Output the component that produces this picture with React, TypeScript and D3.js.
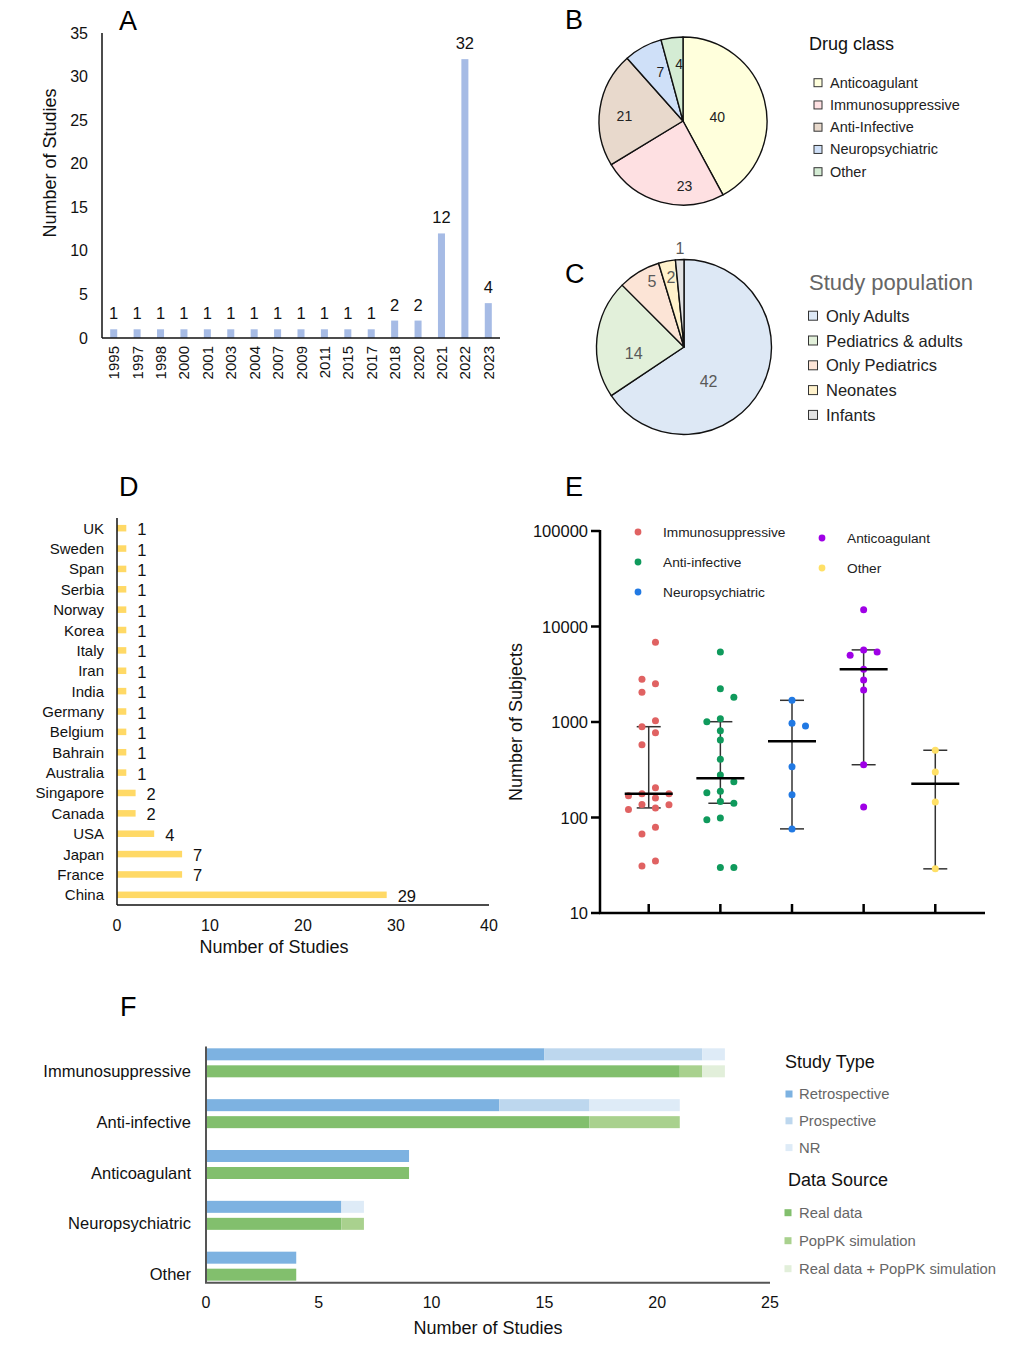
import React from "react";
import * as d3 from "d3";

const FONT = "'Liberation Sans', Arial, Helvetica, sans-serif";

// ---- A: studies per publication year
const years = ["1995", "1997", "1998", "2000", "2001", "2003", "2004", "2007", "2009", "2011", "2015", "2017", "2018", "2020", "2021", "2022", "2023"];
const studiesPerYear = [1, 1, 1, 1, 1, 1, 1, 1, 1, 1, 1, 1, 2, 2, 12, 32, 4];
const yearTicks = [0, 5, 10, 15, 20, 25, 30, 35];

// ---- B: drug class
const drugClasses = ["Anticoagulant", "Immunosuppressive", "Anti-Infective", "Neuropsychiatric", "Other"];
const drugClassCounts = [40, 23, 21, 7, 4];
const drugClassColors = ["#ffffdc", "#fee0e2", "#e8d9cc", "#cfe0f8", "#d4ecd4"];
// label placement inside slice: fraction of the slice angle, fraction of radius
const drugLabelT = [0.55, 0.31, 0.45, 0.63, 0.74];
const drugLabelR = [0.41, 0.77, 0.7, 0.64, 0.68];

// ---- C: study population
const populations = ["Only Adults", "Pediatrics & adults", "Only Pediatrics", "Neonates", "Infants"];
const populationCounts = [42, 14, 5, 2, 1];
const populationColors = ["#dde8f5", "#e2f0da", "#fce4d6", "#fff2cc", "#e3e3e3"];
const popLabelT = [0.61, 0.34, 0.67, 0.55, 0.59];
const popLabelR = [0.48, 0.58, 0.83, 0.81, 1.13];

// ---- D: countries
const countries = ["UK", "Sweden", "Span", "Serbia", "Norway", "Korea", "Italy", "Iran", "India", "Germany", "Belgium", "Bahrain", "Australia", "Singapore", "Canada", "USA", "Japan", "France", "China"];
const countryCounts = [1, 1, 1, 1, 1, 1, 1, 1, 1, 1, 1, 1, 1, 2, 2, 4, 7, 7, 29];
const countryTicks = [0, 10, 20, 30, 40];

// ---- E: number of subjects per study
const subjectGroups = ["Immunosuppressive", "Anti-infective", "Neuropsychiatric", "Anticoagulant", "Other"];
const subjectColors = ["#e06262", "#0f9a5c", "#2179e3", "#9f00e6", "#ffe066"];
const immunoSubjects = [6840, 2800, 2520, 2050, 1030, 893, 773, 578, 205, 177, 177, 169, 160, 137, 136, 126, 121, 79, 67, 35, 31];
const antiInfectiveSubjects = [5410, 2230, 1815, 1083, 1007, 811, 648, 407, 279, 237, 188, 182, 147, 141, 99, 95, 30, 30];
const neuroSubjects = [1687, 969, 908, 340, 173, 76];
const anticoagSubjects = [15000, 5680, 5410, 4990, 3560, 2755, 2165, 357, 129];
const otherSubjects = [506, 299, 145, 29];
const subjectMedian = [177, 257, 630, 3560, 226];
const subjectLower = [126, 141, 76, 357, 29];
const subjectUpper = [893, 1007, 1687, 5690, 506];
const subjectTicks = [10, 100, 1000, 10000, 100000];

// ---- F: study type / data source by drug class
const fClasses = ["Immunosuppressive", "Anti-infective", "Anticoagulant", "Neuropsychiatric", "Other"];
const studyTypes = ["Retrospective", "Prospective", "NR"];
const studyTypeColors = ["#7db2e1", "#bdd7ee", "#deebf7"];
const retrospective = [15, 13, 9, 6, 4];
const prospective = [7, 4, 0, 0, 0];
const notReported = [1, 4, 0, 1, 0];
const dataSources = ["Real data", "PopPK simulation", "Real data + PopPK simulation"];
const dataSourceColors = ["#82bf6d", "#a9d18e", "#e2efda"];
const realData = [21, 17, 9, 6, 4];
const popPK = [1, 4, 0, 1, 0];
const realPlusPopPK = [1, 0, 0, 0, 0];
const fTicks = [0, 5, 10, 15, 20, 25];

// simple beeswarm: places each point in the nearest free lane
function swarmLanes(ys: number[], step: number, gap: number, odd: boolean) {
  const lanes = odd ? [0, -1, 1, -2, 2, -3, 3] : [-0.5, 0.5, -1.5, 1.5, -2.5, 2.5];
  const order = ys.map((_, i) => i).sort((a, b) => ys[a] - ys[b]);
  const placed: { y: number; lane: number }[] = [];
  const out: number[] = new Array(ys.length).fill(0);
  let preferPos = true;
  order.forEach((i) => {
    const y = ys[i];
    const cand = lanes
      .slice()
      .sort((a, b) => Math.abs(a) - Math.abs(b) || (preferPos ? b - a : a - b));
    const lane =
      cand.find((l) => placed.every((p) => p.lane !== l || Math.abs(p.y - y) >= gap)) ?? 0;
    placed.push({ y, lane });
    if (lane !== 0) preferPos = lane < 0;
    out[i] = lane * step;
  });
  return out;
}

function swarm(ys: number[]) {
  const odd = swarmLanes(ys, 13.5, 9, true);
  if (d3.max(odd, (d) => Math.abs(d))! < 27) return odd;
  return swarmLanes(ys, 13.5, 9, false);
}

const PieChart: React.FC<{
  cx: number;
  cy: number;
  r: number;
  values: number[];
  colors: string[];
  labelT: number[];
  labelR: number[];
  labelColor: string;
  fontSize: number;
}> = ({ cx, cy, r, values, colors, labelT, labelR, labelColor, fontSize }) => {
  const arcs = d3.pie<number>().sort(null).value((d) => d)(values);
  const arc = d3.arc<d3.PieArcDatum<number>>().innerRadius(0).outerRadius(r);
  return (
    <g transform={`translate(${cx},${cy})`}>
      {arcs.map((a, i) => (
        <path key={i} d={arc(a) || ""} fill={colors[i]} stroke="#111" strokeWidth={1.4} strokeLinejoin="round" />
      ))}
      {arcs.map((a, i) => {
        const ang = a.startAngle + labelT[i] * (a.endAngle - a.startAngle);
        const rr = labelR[i] * r;
        return (
          <text
            key={"l" + i}
            x={Math.sin(ang) * rr}
            y={-Math.cos(ang) * rr}
            textAnchor="middle"
            dominantBaseline="central"
            fontSize={fontSize}
            fill={labelColor}
          >
            {a.data}
          </text>
        );
      })}
    </g>
  );
};

const PanelA = () => {
  const x = d3.scaleBand<string>().domain(years).range([102, 500]).paddingInner(0.7).paddingOuter(0.35);
  const y = d3.scaleLinear().domain([0, 35]).range([338, 33]);
  return (
    <g>
      {years.map((yr, i) => (
        <rect key={yr} x={x(yr)} y={y(studiesPerYear[i])} width={x.bandwidth()} height={y(0) - y(studiesPerYear[i])} fill="#a6bbe5" />
      ))}
      {years.map((yr, i) => (
        <text key={"v" + yr} x={x(yr)! + x.bandwidth() / 2} y={y(studiesPerYear[i]) - 10} textAnchor="middle" fontSize={16.5} fill="#111">
          {studiesPerYear[i]}
        </text>
      ))}
      {years.map((yr) => (
        <text
          key={"t" + yr}
          transform={`translate(${x(yr)! + x.bandwidth() / 2},346) rotate(-90)`}
          textAnchor="end"
          dominantBaseline="central"
          fontSize={15}
          fill="#111"
        >
          {yr}
        </text>
      ))}
      {yearTicks.map((t) => (
        <text key={"y" + t} x={88} y={y(t)} textAnchor="end" dominantBaseline="central" fontSize={16} fill="#111">
          {t}
        </text>
      ))}
      <line x1={102} x2={102} y1={y(35)} y2={y(0)} stroke="#111" strokeWidth={1.5} />
      <line x1={102} x2={500} y1={y(0)} y2={y(0)} stroke="#111" strokeWidth={1.5} />
      <text transform="translate(50,163) rotate(-90)" textAnchor="middle" dominantBaseline="central" fontSize={18} fill="#111">
        Number of Studies
      </text>
    </g>
  );
};

const SquareLegend: React.FC<{
  x: number;
  y0: number;
  step: number;
  size: number;
  labels: string[];
  colors: string[];
  fontSize: number;
  textX: number;
  stroke?: string;
  textColor: string;
}> = ({ x, y0, step, size, labels, colors, fontSize, textX, stroke, textColor }) => (
  <g>
    {labels.map((l, i) => (
      <g key={l}>
        <rect
          x={x - size / 2}
          y={y0 + i * step - size / 2}
          width={size}
          height={size}
          fill={colors[i]}
          stroke={stroke || "none"}
          strokeWidth={stroke ? 1 : 0}
        />
        <text x={textX} y={y0 + i * step} dominantBaseline="central" fontSize={fontSize} fill={textColor}>
          {l}
        </text>
      </g>
    ))}
  </g>
);

const PanelD = () => {
  const x = d3.scaleLinear().domain([0, 40]).range([117, 489]);
  const y = d3.scaleBand<string>().domain(countries).range([518, 905]).paddingInner(0.68).paddingOuter(0.34);
  return (
    <g>
      {countries.map((c, i) => (
        <g key={c}>
          <rect x={x(0)} y={y(c)} width={x(countryCounts[i]) - x(0)} height={y.bandwidth()} fill="#ffd966" />
          <text x={x(countryCounts[i]) + 11} y={y(c)! + y.bandwidth() / 2 + 1} dominantBaseline="central" fontSize={16.5} fill="#111">
            {countryCounts[i]}
          </text>
          <text x={104} y={y(c)! + y.bandwidth() / 2} textAnchor="end" dominantBaseline="central" fontSize={15} fill="#111">
            {c}
          </text>
        </g>
      ))}
      <line x1={117} x2={117} y1={518} y2={905} stroke="#111" strokeWidth={1.5} />
      <line x1={117} x2={489} y1={905} y2={905} stroke="#111" strokeWidth={1.5} />
      {countryTicks.map((t) => (
        <text key={t} x={x(t)} y={925} textAnchor="middle" dominantBaseline="central" fontSize={16} fill="#111">
          {t}
        </text>
      ))}
      <text x={274} y={947} textAnchor="middle" dominantBaseline="central" fontSize={18} fill="#111">
        Number of Studies
      </text>
    </g>
  );
};

const PanelE = () => {
  const y = d3.scaleLog().domain([10, 100000]).range([913, 531]);
  const x = d3.scalePoint<string>().domain(subjectGroups).range([600, 984]).padding(0.68);
  const groups = [immunoSubjects, antiInfectiveSubjects, neuroSubjects, anticoagSubjects, otherSubjects];
  return (
    <g>
      {groups.map((vals, gi) => {
        const cx = x(subjectGroups[gi])!;
        const ys = vals.map((v) => y(v));
        const offs = swarm(ys);
        return (
          <g key={gi}>
            <line x1={cx} x2={cx} y1={y(subjectLower[gi])} y2={y(subjectUpper[gi])} stroke="#333" strokeWidth={1.5} />
            <line x1={cx - 12} x2={cx + 12} y1={y(subjectLower[gi])} y2={y(subjectLower[gi])} stroke="#333" strokeWidth={1.5} />
            <line x1={cx - 12} x2={cx + 12} y1={y(subjectUpper[gi])} y2={y(subjectUpper[gi])} stroke="#333" strokeWidth={1.5} />
            {ys.map((yy, i) => (
              <circle key={i} cx={cx + offs[i]} cy={yy} r={3.5} fill={subjectColors[gi]} />
            ))}
            <line x1={cx - 24} x2={cx + 24} y1={y(subjectMedian[gi])} y2={y(subjectMedian[gi])} stroke="#000" strokeWidth={2.5} />
            <line x1={cx} x2={cx} y1={904} y2={913} stroke="#000" strokeWidth={2.5} />
          </g>
        );
      })}
      <line x1={600} x2={600} y1={530} y2={914} stroke="#000" strokeWidth={2.5} />
      <line x1={599} x2={985} y1={913} y2={913} stroke="#000" strokeWidth={2.5} />
      {subjectTicks.map((t) => (
        <g key={t}>
          <line x1={591} x2={600} y1={y(t)} y2={y(t)} stroke="#000" strokeWidth={2.5} />
          <text x={588} y={y(t)} textAnchor="end" dominantBaseline="central" fontSize={16.5} fill="#111">
            {t}
          </text>
        </g>
      ))}
      <text transform="translate(516,722) rotate(-90)" textAnchor="middle" dominantBaseline="central" fontSize={18} fill="#111">
        Number of Subjects
      </text>
      {subjectGroups.map((g, i) => {
        const col = i < 3 ? 0 : 1;
        const row = i < 3 ? i : i - 3;
        const dx = col === 0 ? 638 : 822;
        const dy = (col === 0 ? 532 : 538) + row * 30;
        return (
          <g key={g}>
            <circle cx={dx} cy={dy} r={3.4} fill={subjectColors[i]} />
            <text x={dx + 25} y={dy} dominantBaseline="central" fontSize={13.7} fill="#222">
              {g}
            </text>
          </g>
        );
      })}
    </g>
  );
};

const PanelF = () => {
  const x = d3.scaleLinear().domain([0, 25]).range([206, 770]);
  const y = d3.scaleBand<string>().domain(fClasses).range([1037.4, 1291.6]);
  const typeRows = fClasses.map((c, i) => ({ c, Retrospective: retrospective[i], Prospective: prospective[i], NR: notReported[i] }));
  const srcRows = fClasses.map((c, i) => ({
    c,
    "Real data": realData[i],
    "PopPK simulation": popPK[i],
    "Real data + PopPK simulation": realPlusPopPK[i],
  }));
  const typeStack = d3.stack<any>().keys(studyTypes)(typeRows);
  const srcStack = d3.stack<any>().keys(dataSources)(srcRows);
  const h = 12;
  return (
    <g>
      {typeStack.map((s, si) =>
        s.map((d, i) => (
          <rect
            key={`t${si}-${i}`}
            x={x(d[0])}
            y={y(fClasses[i])! + y.bandwidth() / 2 - 2.5 - h}
            width={x(d[1]) - x(d[0])}
            height={h}
            fill={studyTypeColors[si]}
          />
        ))
      )}
      {srcStack.map((s, si) =>
        s.map((d, i) => (
          <rect
            key={`s${si}-${i}`}
            x={x(d[0])}
            y={y(fClasses[i])! + y.bandwidth() / 2 + 2.5}
            width={x(d[1]) - x(d[0])}
            height={h}
            fill={dataSourceColors[si]}
          />
        ))
      )}
      {fClasses.map((c) => (
        <text key={c} x={191} y={y(c)! + y.bandwidth() / 2 + 8} textAnchor="end" dominantBaseline="central" fontSize={16.5} fill="#111">
          {c}
        </text>
      ))}
      <line x1={206} x2={206} y1={1046.5} y2={1283} stroke="#555" strokeWidth={2} />
      <line x1={205} x2={770} y1={1282.7} y2={1282.7} stroke="#555" strokeWidth={2} />
      {fTicks.map((t) => (
        <text key={t} x={x(t)} y={1302} textAnchor="middle" dominantBaseline="central" fontSize={16} fill="#111">
          {t}
        </text>
      ))}
      <text x={488} y={1328} textAnchor="middle" dominantBaseline="central" fontSize={18} fill="#111">
        Number of Studies
      </text>
      <text x={785} y={1062} dominantBaseline="central" fontSize={18} fill="#111">
        Study Type
      </text>
      <SquareLegend x={789} y0={1094} step={26.8} size={7} labels={studyTypes} colors={studyTypeColors} fontSize={14.8} textX={799} textColor="#666" />
      <text x={788} y={1180} dominantBaseline="central" fontSize={18} fill="#111">
        Data Source
      </text>
      <SquareLegend x={788} y0={1212.7} step={28} size={7} labels={dataSources} colors={dataSourceColors} fontSize={14.8} textX={799} textColor="#666" />
    </g>
  );
};

const PanelLetter: React.FC<{ x: number; y: number; t: string }> = ({ x, y, t }) => (
  <text x={x} y={y} fontSize={27} fill="#000">
    {t}
  </text>
);

export default function App() {
  return (
    <div style={{ position: "absolute", left: 0, top: 0 }}>
      <svg width={1016} height={1346} viewBox="0 0 1016 1346" style={{ display: "block", background: "#fff", fontFamily: FONT }}>
        <rect width={1016} height={1346} fill="#fff" />
        <PanelLetter x={119} y={30} t="A" />
        <PanelLetter x={565} y={29} t="B" />
        <PanelLetter x={565} y={283} t="C" />
        <PanelLetter x={119} y={496} t="D" />
        <PanelLetter x={565} y={496} t="E" />
        <PanelLetter x={120} y={1016} t="F" />

        <PanelA />

        <PieChart
          cx={683}
          cy={121}
          r={84}
          values={drugClassCounts}
          colors={drugClassColors}
          labelT={drugLabelT}
          labelR={drugLabelR}
          labelColor="#222"
          fontSize={14}
        />
        <text x={809} y={44} dominantBaseline="central" fontSize={18} fill="#111">
          Drug class
        </text>
        <SquareLegend x={818} y0={82.7} step={22.25} size={8} labels={drugClasses} colors={drugClassColors} fontSize={14.5} textX={830} stroke="#333" textColor="#222" />

        <PieChart
          cx={684}
          cy={347}
          r={87.5}
          values={populationCounts}
          colors={populationColors}
          labelT={popLabelT}
          labelR={popLabelR}
          labelColor="#595959"
          fontSize={16}
        />
        <text x={809} y={282} dominantBaseline="central" fontSize={22} fill="#666">
          Study population
        </text>
        <SquareLegend x={813} y0={315.7} step={24.8} size={9} labels={populations} colors={populationColors} fontSize={16.5} textX={826} stroke="#333" textColor="#222" />

        <PanelD />
        <PanelE />
        <PanelF />
      </svg>
    </div>
  );
}
